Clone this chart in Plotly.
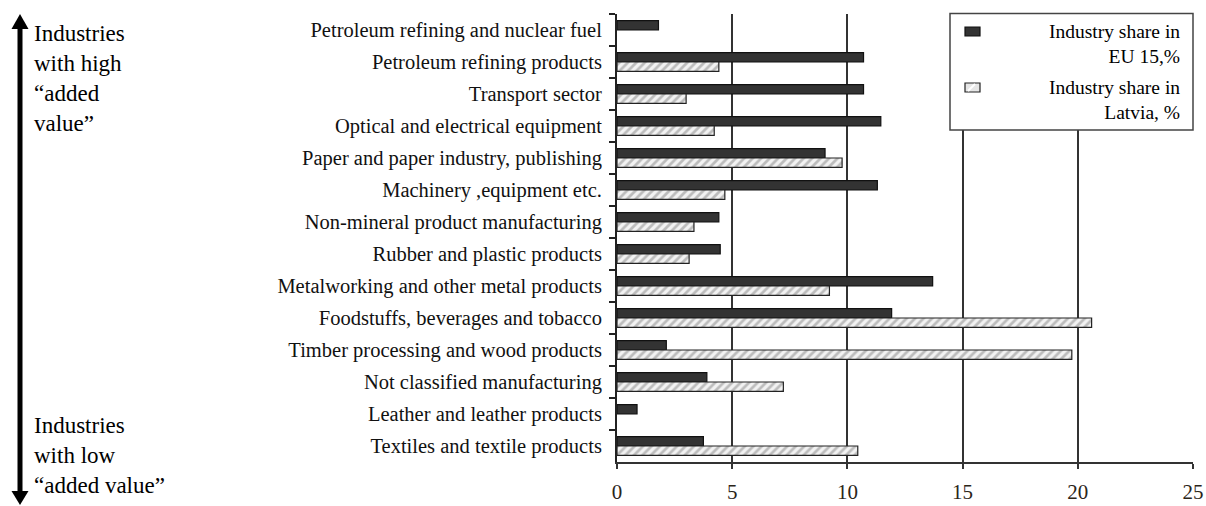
import plotly.graph_objects as go

# Industries ordered from high to low "added value" (top to bottom)
industries = [
    "Petroleum refining and nuclear fuel",
    "Petroleum refining products",
    "Transport sector",
    "Optical and electrical equipment",
    "Paper and paper industry, publishing",
    "Machinery ,equipment etc.",
    "Non-mineral product manufacturing",
    "Rubber and plastic products",
    "Metalworking and other metal products",
    "Foodstuffs, beverages and tobacco",
    "Timber processing and wood products",
    "Not classified manufacturing",
    "Leather and leather products",
    "Textiles and textile products",
]

share_eu15 = [1.8, 10.7, 10.7, 11.45, 9.03, 11.3, 4.42, 4.48, 13.7, 11.92, 2.14, 3.9, 0.87, 3.75]
share_latvia = [None, 4.42, 3.0, 4.22, 9.77, 4.68, 3.34, 3.13, 9.22, 20.6, 19.74, 7.22, None, 10.45]

x_ticks = [0, 5, 10, 15, 20, 25]

legend_eu = "Industry share in<br>EU 15,%"
legend_lv = "Industry share in<br>Latvia, %"
note_high = "Industries<br>with high<br>\u201cadded<br>value\u201d"
note_low = "Industries<br>with low<br>\u201cadded value\u201d"

W, H = 1206, 506
L, R, T, B = 617, 13, 14, 44
PW, PH = W - L - R, H - T - B

SERIF = "Liberation Serif"


def px_x(p):
    return (p - L) / PW


def px_y(p):
    return (T + PH - p) / PH


fig = go.Figure()

fig.add_trace(go.Bar(
    y=industries, x=share_eu15, orientation="h", name=legend_eu,
    marker=dict(color="#333333", line=dict(color="#111111", width=1.2)),
    showlegend=False,
))
fig.add_trace(go.Bar(
    y=industries, x=share_latvia, orientation="h", name=legend_lv,
    marker=dict(
        color="#eeeeee",
        line=dict(color="#222222", width=1.2),
        pattern=dict(shape="/", bgcolor="#f2f2f2", fgcolor="#bcbcbc",
                     size=6, solidity=0.45, fillmode="replace"),
    ),
    showlegend=False,
))

shapes = []
annotations = []

# double-headed arrow on the far left
ax = 20
shapes.append(dict(type="line", xref="paper", yref="paper",
                   x0=px_x(ax), x1=px_x(ax), y0=px_y(26), y1=px_y(494),
                   line=dict(color="#000000", width=5)))
shapes.append(dict(type="path", xref="paper", yref="paper",
                   path=f"M {px_x(ax)},{px_y(14)} L {px_x(ax - 8.5)},{px_y(29)} "
                        f"L {px_x(ax + 8.5)},{px_y(29)} Z",
                   fillcolor="#000000", line=dict(width=0)))
shapes.append(dict(type="path", xref="paper", yref="paper",
                   path=f"M {px_x(ax)},{px_y(505)} L {px_x(ax - 8.5)},{px_y(491)} "
                        f"L {px_x(ax + 8.5)},{px_y(491)} Z",
                   fillcolor="#000000", line=dict(width=0)))

annotations.append(dict(text=note_high, xref="paper", yref="paper",
                        x=px_x(32), y=px_y(19), xanchor="left", yanchor="top",
                        align="left", showarrow=False,
                        font=dict(family=SERIF, size=23, color="#000000")))
annotations.append(dict(text=note_low, xref="paper", yref="paper",
                        x=px_x(32), y=px_y(411), xanchor="left", yanchor="top",
                        align="left", showarrow=False,
                        font=dict(family=SERIF, size=23, color="#000000")))

# legend box
shapes.append(dict(type="rect", xref="paper", yref="paper",
                   x0=px_x(950), x1=px_x(1193), y0=px_y(130), y1=px_y(13.5),
                   fillcolor="#ffffff", line=dict(color="#444444", width=1.5)))
shapes.append(dict(type="rect", xref="paper", yref="paper",
                   x0=px_x(965), x1=px_x(980), y0=px_y(36), y1=px_y(27),
                   fillcolor="#333333", line=dict(color="#111111", width=1.2)))
shapes.append(dict(type="rect", xref="paper", yref="paper",
                   x0=px_x(965), x1=px_x(980), y0=px_y(92), y1=px_y(83),
                   fillcolor="#e6e6e6", line=dict(color="#222222", width=1.2)))
shapes.append(dict(type="line", xref="paper", yref="paper",
                   x0=px_x(968), x1=px_x(975), y0=px_y(91), y1=px_y(84),
                   line=dict(color="#ffffff", width=2)))

annotations.append(dict(text=legend_eu, xref="paper", yref="paper",
                        x=px_x(1182), y=px_y(43.5), xanchor="right", yanchor="middle",
                        align="right", showarrow=False,
                        font=dict(family=SERIF, size=19.5, color="#000000")))
annotations.append(dict(text=legend_lv, xref="paper", yref="paper",
                        x=px_x(1182), y=px_y(100), xanchor="right", yanchor="middle",
                        align="right", showarrow=False,
                        font=dict(family=SERIF, size=19.5, color="#000000")))

fig.update_layout(
    width=W, height=H,
    margin=dict(l=L, r=R, t=T, b=B, autoexpand=False),
    paper_bgcolor="#ffffff", plot_bgcolor="#ffffff",
    barmode="group", bargap=0.42, bargroupgap=0.0,
    font=dict(family=SERIF, size=20, color="#111111"),
    shapes=shapes, annotations=annotations,
    xaxis=dict(
        range=[0, 25], tickvals=x_ticks, ticktext=[str(v) for v in x_ticks],
        showgrid=True, gridcolor="#333333", gridwidth=1.6,
        showline=True, linecolor="#333333", linewidth=2,
        ticks="outside", ticklen=5, tickwidth=1.5, tickcolor="#333333",
        zeroline=False, ticklabelstandoff=5,
        tickfont=dict(family=SERIF, size=21, color="#2b2519"),
    ),
    yaxis=dict(
        type="category", categoryorder="array", categoryarray=industries,
        autorange="reversed", showgrid=False, zeroline=False,
        showline=True, linecolor="#222222", linewidth=2,
        ticks="outside", ticklen=6, tickwidth=1.5, tickcolor="#222222",
        tickson="boundaries", ticklabelstandoff=9,
        tickfont=dict(family=SERIF, size=20.5, color="#111111"),
    ),
)

fig.write_html("out.html")
